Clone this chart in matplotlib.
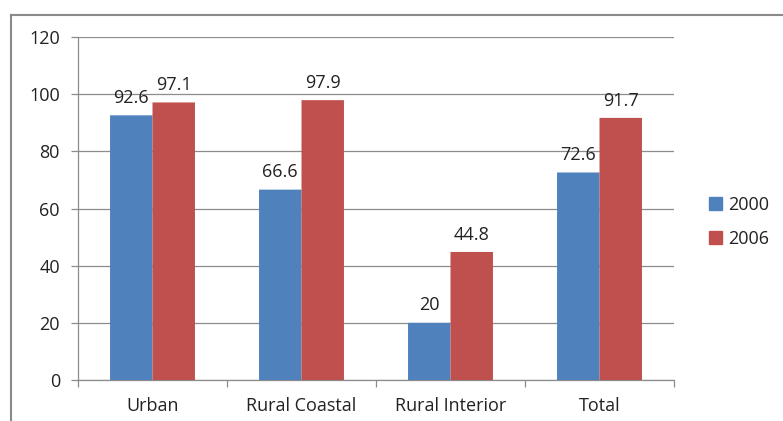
import matplotlib
matplotlib.use("Agg")
import matplotlib.pyplot as plt
from matplotlib.patches import Rectangle
from matplotlib.lines import Line2D
import numpy as np

categories = ["Urban", "Rural Coastal", "Rural Interior", "Total"]
series_names = ["2000", "2006"]
values_2000 = [92.6, 66.6, 20, 72.6]
values_2006 = [97.1, 97.9, 44.8, 91.7]
y_ticks = [0, 20, 40, 60, 80, 100, 120]

blue = "#4F81BD"
red = "#C0504D"
grid_gray = "#8C8C8C"
text_color = "#222222"
fs = 13

plt.rcParams["font.family"] = ["Open Sans", "DejaVu Sans"]

fig = plt.figure(figsize=(7.83, 4.21), dpi=100)
ax = fig.add_axes([78 / 783, 1 - 380 / 421, (674 - 78) / 783, (380 - 37) / 421])

x = np.arange(len(categories))
w = 0.285
bars1 = ax.bar(x - w / 2, values_2000, w, color=blue, linewidth=0, zorder=3,
               snap=False, label=series_names[0])
bars2 = ax.bar(x + w / 2, values_2006, w, color=red, linewidth=0, zorder=3,
               snap=False, label=series_names[1])

for bars, vals in ((bars1, values_2000), (bars2, values_2006)):
    for b, v in zip(bars, vals):
        ax.annotate(f"{v:g}", (b.get_x() + b.get_width() / 2, v),
                    xytext=(0, 6), textcoords="offset points",
                    ha="center", va="bottom", fontsize=fs, color=text_color)

ax.set_xlim(-0.5, len(categories) - 0.5)
ax.set_ylim(0, 120)
ax.set_yticks(y_ticks)
ax.yaxis.grid(True, color=grid_gray, linewidth=0.9, zorder=0)
ax.set_axisbelow(True)

# Category separators as major ticks, category names on minor ticks
ax.set_xticks(np.arange(len(categories) + 1) - 0.5)
ax.set_xticklabels([])
ax.set_xticks(x, minor=True)
ax.set_xticklabels(categories, minor=True)
ax.tick_params(axis="x", which="major", length=5, color=grid_gray, width=0.9)
ax.tick_params(axis="x", which="minor", length=0, pad=12.5, labelsize=fs, labelcolor=text_color)
ax.tick_params(axis="y", length=5, color=grid_gray, width=0.9, pad=8,
               labelsize=fs, labelcolor=text_color)

for s in ("top", "right"):
    ax.spines[s].set_visible(False)
for s in ("left", "bottom"):
    ax.spines[s].set_color(grid_gray)
    ax.spines[s].set_linewidth(0.9)

# Legend
handles = [Rectangle((0, 0), 1, 1, color=blue), Rectangle((0, 0), 1, 1, color=red)]
fig.legend(handles, series_names, loc="center left",
           bbox_to_anchor=(693 / 783, 1 - 222 / 421), frameon=False,
           fontsize=fs, handlelength=0.7, handleheight=0.7,
           handletextpad=0.35, labelspacing=0.9, labelcolor=text_color)

# Chart area border (top and left edges)
border_col = "#8A8A8A"
fig.add_artist(Line2D([11 / 783, 1], [1 - 15 / 421, 1 - 15 / 421],
                      transform=fig.transFigure, color=border_col, linewidth=1.5))
fig.add_artist(Line2D([11 / 783, 11 / 783], [0, 1 - 15 / 421],
                      transform=fig.transFigure, color=border_col, linewidth=1.5))

fig.savefig("out.png", dpi=100, facecolor="white")
